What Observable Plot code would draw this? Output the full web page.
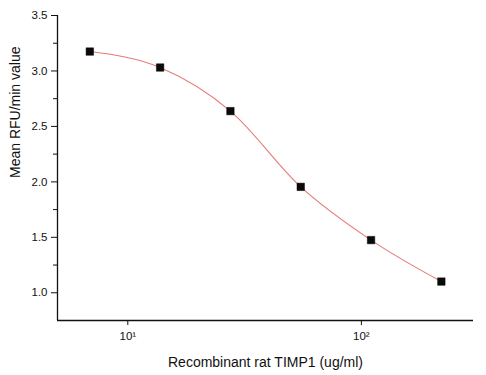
<!DOCTYPE html>
<html>
<head>
<meta charset="utf-8">
<script src="https://cdn.jsdelivr.net/npm/d3@7"></script>
<script src="https://cdn.jsdelivr.net/npm/@observablehq/plot@0.6"></script>
<style>
  html, body { margin: 0; padding: 0; background: #fff; }
  #chart svg { display: block; }
</style>
</head>
<body>
<div id="chart"></div>
<script>
const concentration = [6.875, 13.75, 27.5, 55, 110, 220];
const meanRfu = [3.175, 3.031, 2.638, 1.955, 1.475, 1.101];
const xTickValues = [10, 100];
const xTickLabels = ["10\u00b9", "10\u00b2"];
const yTickValues = [1.0, 1.5, 2.0, 2.5, 3.0, 3.5];
const yMinorTicks = [1.25, 1.75, 2.25, 2.75, 3.25];
const xTitle = "Recombinant rat TIMP1 (ug/ml)";
const yTitle = "Mean RFU/min value";

const data = concentration.map((c, i) => ({x: c, y: meanRfu[i]}));
const font = "'Liberation Sans', Arial, sans-serif";

const chart = Plot.plot({
  width: 486,
  height: 375,
  marginLeft: 57,
  marginRight: 13,
  marginTop: 15,
  marginBottom: 55,
  style: {fontFamily: font, fontSize: "11px", color: "#111", background: "#fff"},
  x: {type: "log", domain: [5, 302]},
  y: {domain: [0.75, 3.5]},
  marks: [
    Plot.axisX({ticks: xTickValues, tickFormat: d => xTickLabels[xTickValues.indexOf(d)], tickSize: 5, tickPadding: 6, label: null, fontSize: 11.5}),
    Plot.axisY({ticks: yTickValues, tickFormat: d => d.toFixed(1), tickSize: 6, tickPadding: 4, label: null, fontSize: 11.5}),
    Plot.axisY({ticks: yMinorTicks, text: null, tickSize: 4, label: null}),
    Plot.ruleX([5], {stroke: "#111", strokeWidth: 1.3}),
    Plot.ruleY([0.75], {stroke: "#111", strokeWidth: 1.3}),
    Plot.line(data, {x: "x", y: "y", curve: "monotone-x", stroke: "#e67a7a", strokeWidth: 1.1}),
    Plot.dot(data, {x: "x", y: "y", symbol: "square", r: 4.2, fill: "#0a0a0a", stroke: "#000", strokeWidth: 0.5}),
    Plot.text([xTitle], {frameAnchor: "bottom", dy: 42, text: d => d, fontSize: 14, fill: "#111", lineAnchor: "middle"}),
    Plot.text([yTitle], {frameAnchor: "left", dx: -42, dy: 10, rotate: -90, text: d => d, fontSize: 14, fill: "#111", lineAnchor: "middle"})
  ]
});
document.getElementById("chart").appendChild(chart);
</script>
</body>
</html>
